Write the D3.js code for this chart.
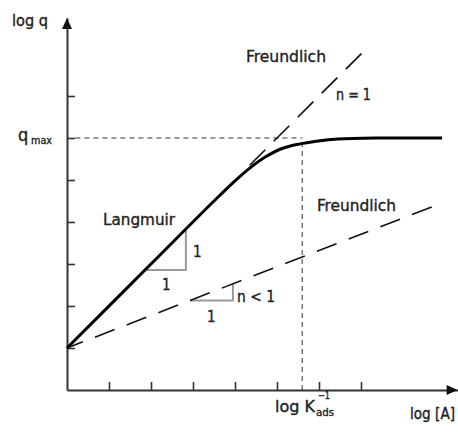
<!DOCTYPE html>
<html>
<head>
<meta charset="utf-8">
<script src="https://cdn.jsdelivr.net/npm/d3@7"></script>
<style>
  body { margin: 0; background: #fff; }
  text { font-family: "Liberation Sans Narrow", "DejaVu Sans Condensed", "Roboto", sans-serif; fill: #222; stroke: #222; stroke-width: 0.35px; }
</style>
</head>
<body>
<div id="chart"></div>
<script>
// axis ticks (log units)
const xTicks = [1, 2, 3, 4, 5, 6, 7];
const yTicks = [1, 2, 3, 4, 5, 6, 7];

// Langmuir isotherm
const langmuirX = [0, 2, 3.5, 4.0, 4.36, 4.71, 5.12, 5.55, 5.98, 6.45, 7.45, 8.93];
const langmuirY = [1, 3, 4.5, 4.98, 5.29, 5.54, 5.75, 5.86, 5.93, 5.976, 6.0, 6.0];

// Freundlich lines
const freundlich1X = [4.35, 7.15];
const freundlich1Y = [5.35, 8.15];
const freundlichNX = [0, 8.74];
const freundlichNY = [1, 4.38];

const qmax = 6;
const logKinv = 5.6;

// slope triangles
const triLangX = [1.86, 2.83, 2.83];
const triLangY = [2.86, 2.86, 3.83];
const triFreuX = [2.93, 3.95, 3.95];
const triFreuY = [2.13, 2.13, 2.53];

const width = 458, height = 432;

const svg = d3.select("#chart")
  .append("svg")
  .attr("width", width)
  .attr("height", height);

const x = d3.scaleLinear().domain([0, 9.3]).range([67, 457.6]);
const y = d3.scaleLinear().domain([0, 8.857]).range([390, 18]);

const line = d3.line().x(d => x(d[0])).y(d => y(d[1]));

// axes
const axisColor = "#333";
const gx = svg.append("g")
  .attr("transform", `translate(0,${y(0)})`)
  .call(d3.axisBottom(x).tickValues(xTicks).tickSizeInner(-8).tickSizeOuter(0).tickFormat(""));
const gy = svg.append("g")
  .attr("transform", `translate(${x(0)},0)`)
  .call(d3.axisLeft(y).tickValues(yTicks).tickSizeInner(-8).tickSizeOuter(0).tickFormat(""));
[gx, gy].forEach(g => {
  g.select(".domain").attr("stroke", axisColor).attr("stroke-width", 2);
  g.selectAll(".tick line").attr("stroke", axisColor).attr("stroke-width", 1.6);
});

// arrow heads
svg.append("path")
  .attr("d", `M${x(9.3)},${y(0)} L${x(9.3) - 11},${y(0) - 5} L${x(9.3) - 11},${y(0) + 5} Z`)
  .attr("fill", "#111");
svg.append("path")
  .attr("d", `M${x(0)},${y(8.857)} L${x(0) - 5},${y(8.857) + 11} L${x(0) + 5},${y(8.857) + 11} Z`)
  .attr("fill", "#111");

// guide lines for qmax and log K^-1
svg.append("path")
  .attr("d", line([[0.2, qmax], [logKinv, qmax]]))
  .attr("stroke", "#333").attr("stroke-width", 1).attr("stroke-dasharray", "5,4").attr("fill", "none");
svg.append("path")
  .attr("d", line([[logKinv, 0], [logKinv, qmax]]))
  .attr("stroke", "#333").attr("stroke-width", 1).attr("stroke-dasharray", "5,4").attr("fill", "none");

// slope triangles
[[triLangX, triLangY], [triFreuX, triFreuY]].forEach(([tx, ty]) => {
  svg.append("path")
    .attr("d", line(tx.map((v, i) => [v, ty[i]])))
    .attr("stroke", "#9a9a9a").attr("stroke-width", 2).attr("fill", "none");
});

// Freundlich dashed lines
svg.append("path")
  .attr("d", line(freundlichNX.map((v, i) => [v, freundlichNY[i]])))
  .attr("stroke", "#111").attr("stroke-width", 1.6)
  .attr("stroke-dasharray", "21,13").attr("stroke-dashoffset", 4)
  .attr("fill", "none");
svg.append("path")
  .attr("d", line(freundlich1X.map((v, i) => [v, freundlich1Y[i]])))
  .attr("stroke", "#111").attr("stroke-width", 1.6)
  .attr("stroke-dasharray", "22,12")
  .attr("fill", "none");

// Langmuir curve
svg.append("path")
  .attr("d", d3.line().x(d => x(d[0])).y(d => y(d[1])).curve(d3.curveCatmullRom.alpha(0.5))(langmuirX.map((v, i) => [v, langmuirY[i]])))
  .attr("stroke", "#000").attr("stroke-width", 3).attr("fill", "none");

// labels
function label(txt, px, py, size, len) {
  const t = svg.append("text")
    .attr("x", px).attr("y", py)
    .attr("font-size", size)
    .text(txt);
  if (len) t.attr("textLength", len).attr("lengthAdjust", "spacingAndGlyphs");
  return t;
}

label("log q", 12, 26, 16, 36);
label("q", 18, 141, 18);
label("max", 31, 144, 11, 21);
label("Freundlich", 246, 62, 16, 80);
label("n = 1", 336, 100, 15, 35);
label("Langmuir", 103, 225, 16, 72);
label("1", 193, 257, 15);
label("1", 162, 290, 15);
label("Freundlich", 317, 211, 16, 79);
label("n < 1", 237, 302, 15, 38);
label("1", 207, 322, 15);
label("log K", 275, 412, 16, 40);
label("\u22121", 318, 399, 10, 12);
label("ads", 316, 416, 11, 18);
label("log [A]", 410, 419, 16, 45);
</script>
</body>
</html>
